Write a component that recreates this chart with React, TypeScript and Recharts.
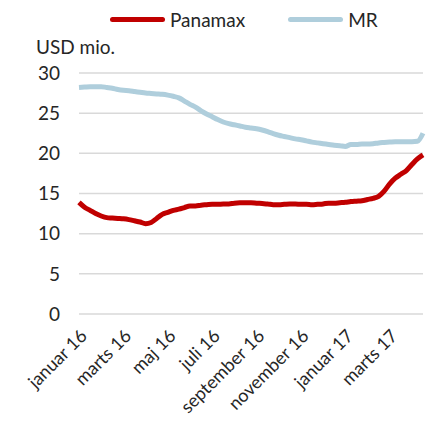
import { LineChart, Line, XAxis, YAxis, CartesianGrid } from "recharts";

const months = [
  "januar 16", "februar 16", "marts 16", "april 16", "maj 16", "juni 16",
  "juli 16", "august 16", "september 16", "oktober 16", "november 16", "december 16",
  "januar 17", "februar 17", "marts 17", "april 17",
];

// ca. ugentlige observationer (4 pr. måned)
const panamax = [
  13.9, 13.3, 12.9, 12.5, 12.2, 12.0, 11.95, 11.9, 11.85, 11.75,
  11.6, 11.45, 11.25, 11.4, 11.9, 12.4, 12.65, 12.9, 13.05, 13.25,
  13.45, 13.45, 13.55, 13.6, 13.65, 13.65, 13.7, 13.7, 13.8, 13.85,
  13.85, 13.85, 13.8, 13.75, 13.7, 13.6, 13.6, 13.65, 13.7, 13.7,
  13.65, 13.65, 13.6, 13.65, 13.7, 13.8, 13.8, 13.85, 13.9, 14.0,
  14.05, 14.1, 14.25, 14.4, 14.65, 15.3, 16.2, 16.9, 17.4, 17.85,
  18.6, 19.3, 19.8,
];

const mr = [
  28.2, 28.25, 28.3, 28.3, 28.3, 28.2, 28.1, 27.95, 27.85, 27.8,
  27.7, 27.6, 27.5, 27.45, 27.4, 27.35, 27.25, 27.1, 26.9, 26.5,
  26.1, 25.75, 25.3, 24.9, 24.55, 24.2, 23.9, 23.7, 23.55, 23.4,
  23.25, 23.15, 23.05, 22.9, 22.7, 22.45, 22.25, 22.1, 21.95, 21.8,
  21.7, 21.55, 21.4, 21.3, 21.2, 21.1, 21.0, 20.95, 20.85, 21.1,
  21.1, 21.15, 21.15, 21.2, 21.3, 21.35, 21.4, 21.45, 21.45, 21.45,
  21.45, 21.5, 22.5,
];

const yTicks = [0, 5, 10, 15, 20, 25, 30];

const data = panamax.map((p, i) => ({
  period: `${months[Math.floor(i / 4)]}|${i % 4}`,
  Panamax: p,
  MR: mr[i],
}));

const font = "Lato, 'Open Sans', sans-serif";
const RED = "#c00000";
const BLUE = "#afcedc";

export default function App() {
  return (
    <div style={{ position: "absolute", left: 0, top: 0, width: 430, height: 423, fontFamily: font, color: "#262626" }}>
      <div style={{ position: "absolute", left: 110, top: 8, display: "flex", alignItems: "center", fontSize: 19 }}>
        <span style={{ width: 55, height: 5, borderRadius: 3, background: RED, marginRight: 5 }} />
        <span style={{ marginRight: 43 }}>Panamax</span>
        <span style={{ width: 55, height: 5, borderRadius: 3, background: BLUE, marginRight: 5 }} />
        <span>MR</span>
      </div>
      <div style={{ position: "absolute", left: 36, top: 35, fontSize: 19 }}>USD mio.</div>
      <LineChart width={430} height={423} data={data} margin={{ top: 73, right: 7, left: 0, bottom: 9 }}>
        <CartesianGrid vertical={false} stroke="#d9d9d9" strokeWidth={1.5} />
        <XAxis
          dataKey="period"
          interval={7}
          axisLine={false}
          tickLine={false}
          height={100}
          tickFormatter={(v: string) => v.split("|")[0]}
          tick={{ angle: -45, textAnchor: "end", fontSize: 18, fill: "#262626", fontFamily: font }}
          tickMargin={8}
        />
        <YAxis
          domain={[0, 30]}
          ticks={yTicks}
          width={79}
          axisLine={false}
          tickLine={false}
          tickSize={0}
          tickMargin={19}
          tick={{ fontSize: 19, fill: "#262626", fontFamily: font }}
        />
        <Line type="monotone" dataKey="MR" stroke={BLUE} strokeWidth={5} dot={false} isAnimationActive={false} />
        <Line type="monotone" dataKey="Panamax" stroke={RED} strokeWidth={5} dot={false} isAnimationActive={false} />
      </LineChart>
    </div>
  );
}
